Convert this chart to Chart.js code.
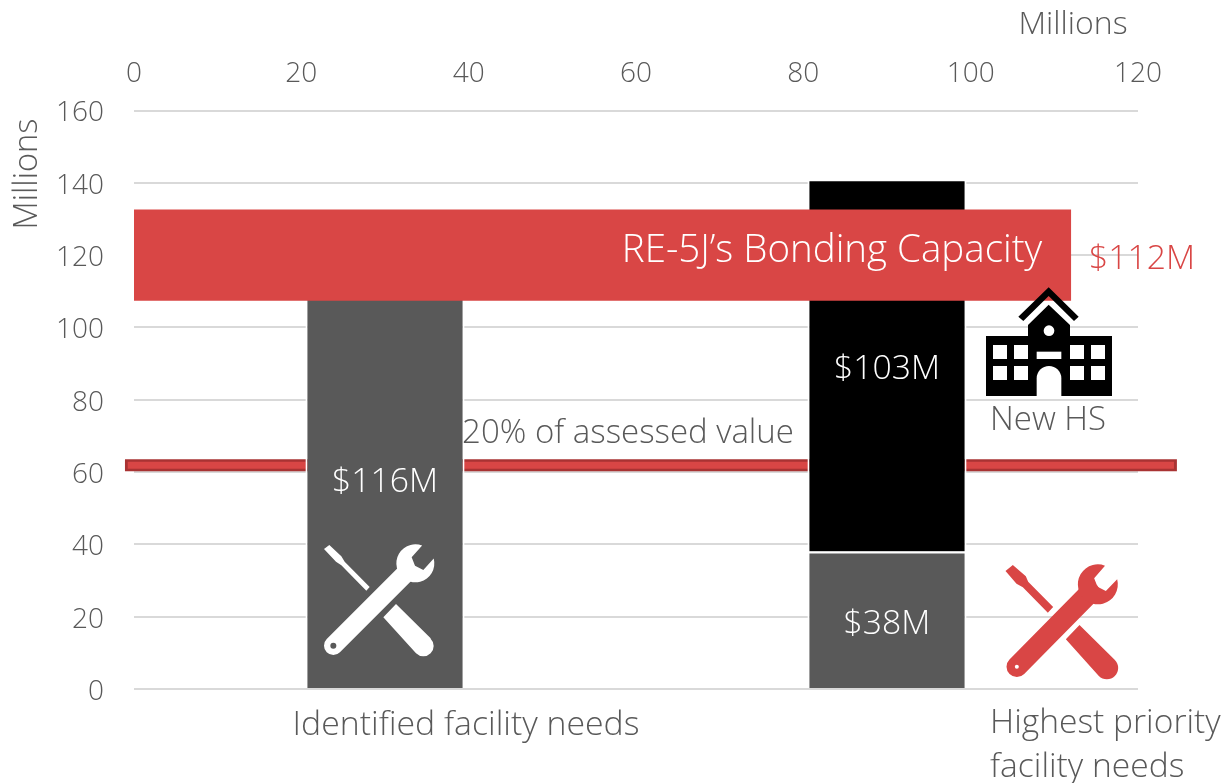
<!DOCTYPE html>
<html><head><meta charset="utf-8">
<style>html,body{margin:0;padding:0;background:#fff}canvas{display:block}</style>
<script src="https://cdn.jsdelivr.net/npm/chart.js@4"></script>
</head><body><div style="width:1224px;height:783px"><canvas id="c" width="1224" height="783"></canvas></div>
<script>
const categories = ["Identified facility needs", "Highest priority facility needs"];
const existingNeeds = [116, 38];
const newHighSchool = [0, 103];
const capacityCategories = ["RE-5J\u2019s Bonding Capacity", ""];
const bondingCapacity = [112, null];
const assessedValueLevel = 61.9;
const assessedValueSpan = [-1.08, 124.65];
const assessedValueCore = [-0.75, 124.3];
const xTopTicks = [0, 20, 40, 60, 80, 100, 120];
const yTicks = [0, 20, 40, 60, 80, 100, 120, 140, 160];

const FONT = '"Open Sans"';
const W = 300, GREY = '#595959', RED = '#D94645', DARKRED = '#A93333';
const toXY = ([a, b]) => [{x: a, y: assessedValueLevel}, {x: b, y: assessedValueLevel}];

function drawSchool(ctx) {
  const P = (x, y) => [960 + x / 3, 270 + y / 3];
  const poly = (pts) => { ctx.beginPath(); pts.forEach((p, i) => { const q = P(p[0], p[1]); i ? ctx.lineTo(q[0], q[1]) : ctx.moveTo(q[0], q[1]); }); ctx.closePath(); ctx.fill(); };
  ctx.fillStyle = '#000';
  poly([[175,140],[266,52],[356,140],[342,153],[266,78],[190,153]]);
  poly([[204,198],[204,165],[266,104],[330,165],[330,198],[456,198],[456,378],[78,378],[78,198]]);
  ctx.fillStyle = '#fff';
  const rect = (x, y, w, h) => { const q = P(x, y); ctx.fillRect(q[0], q[1], w / 3, h / 3); };
  for (const x of [99, 162, 330, 393]) for (const y of [225, 288]) rect(x, y, 42, 42);
  rect(230, 245, 74, 22);
  ctx.beginPath();
  let q = P(267, 182); ctx.arc(q[0], q[1], 16 / 3, 0, 7); ctx.fill();
  ctx.beginPath();
  q = P(230, 378); ctx.moveTo(q[0], q[1]);
  q = P(267, 325); ctx.arc(q[0], q[1], 37 / 3, Math.PI, 0);
  q = P(304, 378); ctx.lineTo(q[0], q[1]); ctx.closePath(); ctx.fill();
}

function drawTools(ctx, ox, oy, color, bg, s) {
  ctx.save();
  ctx.translate(ox, oy); ctx.scale(1 / 3, 1 / 3);
  ctx.fillStyle = color; ctx.strokeStyle = color;
  // wrench handle
  ctx.lineCap = 'round'; ctx.lineWidth = 56 + s * 2;
  ctx.beginPath(); ctx.moveTo(28 + s, 302); ctx.lineTo(250, 80); ctx.stroke();
  // wrench head
  ctx.beginPath();
  ctx.arc(274, 55, 57 + s, -14.7 * Math.PI / 180, 291 * Math.PI / 180);
  ctx.lineTo(263, 37); ctx.lineTo(273, 62); ctx.lineTo(298, 75); ctx.closePath(); ctx.fill();
  // hole
  ctx.fillStyle = bg; ctx.beginPath(); ctx.arc(28 + s, 302, 9 - s, 0, 7); ctx.fill();
  ctx.fillStyle = color;
  // screwdriver tip and shaft
  ctx.beginPath();
  ctx.moveTo(0 - s, 12 + s); ctx.lineTo(16 + s, 0 - s); ctx.lineTo(52 + s * 2, 34 - s); ctx.lineTo(62 + s, 50 - s);
  ctx.lineTo(137 + s, 126 - s); ctx.lineTo(127 - s, 137 + s);
  ctx.lineTo(52 - s, 61 + s); ctx.lineTo(36 - s * 2, 50 + s); ctx.closePath(); ctx.fill();
  // screwdriver handle
  ctx.beginPath();
  ctx.moveTo(178, 217 + s); ctx.lineTo(216 + s, 177); ctx.lineTo(320 + s, 280);
  ctx.arc(298 + s, 303 + s, 31 + s, -45 * Math.PI / 180, 135 * Math.PI / 180);
  ctx.closePath(); ctx.fill();
  ctx.restore();
}

const annotate = {
  id: 'annotate',
  afterDatasetsDraw(chart) {
    const ctx = chart.ctx, x = chart.scales.x;
    ctx.save();
    const text = (s, px, py, color, size, align, rot) => {
      ctx.save();
      ctx.font = `${W} ${size}px ${FONT}`;
      ctx.fillStyle = color; ctx.textAlign = align || 'center'; ctx.textBaseline = 'middle';
      ctx.translate(px, py + 2.5); if (rot) ctx.rotate(rot);
      ctx.fillText(s, 0, 0); ctx.restore();
    };
    drawTools(ctx, 324, 545, '#fff', GREY, 0);
    drawTools(ctx, 1006.5, 566, RED, '#fff', 3);
    drawSchool(ctx);
    text('$116M', x.getPixelForValue(0), 480, '#fff', 33.7);
    text('$103M', x.getPixelForValue(1), 367, '#fff', 33.7);
    text('$38M', x.getPixelForValue(1), 622, '#fff', 33.7);
    text(capacityCategories[0], 832, 249, '#fff', 38.5);
    text('$112M', 1142, 257, RED, 33.7);
    text('New HS', 1048, 418, GREY, 33);
    text('20% of assessed value', 628, 431, GREY, 33);
    text(categories[0], 466, 723, GREY, 33.8);
    text('Highest priority', 990, 721, GREY, 33.6, 'left');
    text('facility needs', 990, 765, GREY, 33.6, 'left');
    text('Millions', 1073, 22, GREY, 32);
    text('Millions', 28, 171.5, GREY, 32.5, 'center', -Math.PI / 2);
    ctx.restore();
  }
};

const BAR_SHARE = 0.317;
new Chart(document.getElementById('c'), {
  data: {
    labels: categories,
    datasets: [
      { type: 'line', label: 'edge', xAxisID: 'x2', yAxisID: 'y', data: toXY(assessedValueSpan), borderColor: DARKRED, borderWidth: 12, pointRadius: 0, clip: false, order: 5, borderCapStyle: 'butt' },
      { type: 'line', label: '20% of assessed value', xAxisID: 'x2', yAxisID: 'y', data: toXY(assessedValueCore), borderColor: RED, borderWidth: 7, pointRadius: 0, clip: false, order: 4, borderCapStyle: 'butt' },
      { type: 'bar', grouped: false, label: 'New HS', xAxisID: 'x', yAxisID: 'y', data: newHighSchool, backgroundColor: '#000', borderColor: '#fff', borderWidth: 2, barPercentage: BAR_SHARE, categoryPercentage: 1, order: 3 },
      { type: 'bar', grouped: false, label: 'Facility needs', xAxisID: 'x', yAxisID: 'y', data: existingNeeds, backgroundColor: GREY, borderColor: '#fff', borderWidth: 2, barPercentage: BAR_SHARE, categoryPercentage: 1, order: 2 },
      { type: 'bar', grouped: false, label: 'Bonding capacity', indexAxis: 'y', xAxisID: 'x2', yAxisID: 'y2', data: bondingCapacity, backgroundColor: RED, borderWidth: 0, barPercentage: 0.315, categoryPercentage: 1, order: 1 }
    ]
  },
  options: {
    responsive: false, animation: false,
    layout: { padding: { left: 0, top: 0, right: 86, bottom: 94 } },
    plugins: { legend: { display: false }, tooltip: { enabled: false } },
    scales: {
      x: { type: 'category', stacked: true, offset: true, display: false, grid: { display: false } },
      y: {
        type: 'linear', position: 'left', stacked: true, min: 0, max: 160,
        afterFit(s) { s.width = 134; },
        afterBuildTicks(s) { s.ticks = yTicks.map(v => ({ value: v })); },
        grid: { color: '#D9D9D9', lineWidth: 2, drawTicks: false },
        border: { display: false },
        ticks: { color: GREY, padding: 30, labelOffset: 3, font: { family: FONT, weight: W, size: 28 } }
      },
      x2: {
        type: 'linear', position: 'top', min: 0, max: 120,
        afterFit(s) { s.height = 110.5; },
        afterBuildTicks(s) { s.ticks = xTopTicks.map(v => ({ value: v })); },
        grid: { display: false, drawTicks: false },
        border: { display: false },
        ticks: { color: GREY, padding: 20, maxRotation: 0, font: { family: FONT, weight: W, size: 28 } }
      },
      y2: { type: 'category', position: 'right', labels: capacityCategories, offset: true, display: false, grid: { display: false } }
    }
  },
  plugins: [annotate]
});
</script></body></html>
